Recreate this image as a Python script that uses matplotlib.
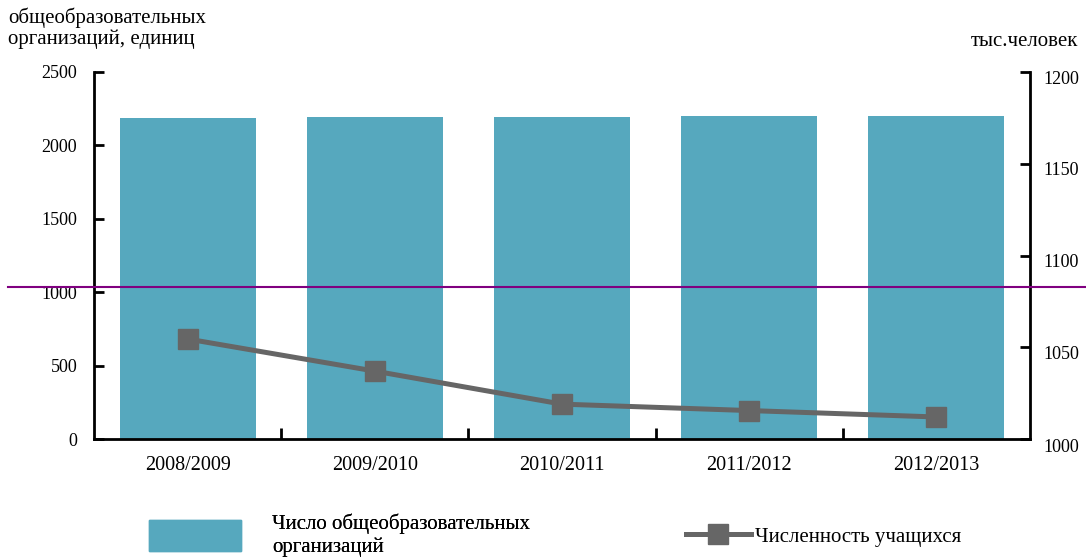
import matplotlib.pyplot as plt
from matplotlib.lines import Line2D
from matplotlib.patches import Patch
from matplotlib.transforms import ScaledTranslation

plt.rcParams['font.family'] = ['Liberation Serif', 'DejaVu Serif']

годы = ["2008/2009", "2009/2010", "2010/2011", "2011/2012", "2012/2013"]
организации = [2187, 2193, 2194, 2200, 2202]
учащиеся = [1054.5, 1037, 1019, 1015.5, 1012]

цвет_столбцов = "#56a8be"
цвет_линии = "#666666"

fig = plt.figure(figsize=(10.86, 5.58), dpi=100)
ax = fig.add_axes([94 / 1086, 1 - 439 / 558, (1030 - 94) / 1086, (439 - 72) / 558])
x = list(range(len(годы)))

ax.bar(x, организации, width=0.727, color=цвет_столбцов, zorder=1)
ax.set_xlim(-0.5, len(годы) - 0.5)
ax.set_ylim(0, 2500)
ax.set_yticks([0, 500, 1000, 1500, 2000, 2500])
ax.set_xticks([i + 0.5 for i in x[:-1]])
ax.set_xticklabels([])
ax.set_xticks(x, minor=True)
ax.set_xticklabels(годы, minor=True, fontsize=14.5)
ax.tick_params(axis='x', which='major', direction='in', length=8, width=2)
ax.tick_params(axis='x', which='minor', length=0, pad=12)
ax.tick_params(axis='y', direction='in', length=7, width=2, labelsize=13, pad=12)
ax.spines['top'].set_visible(False)
ax.spines['right'].set_visible(False)
for s in ['left', 'bottom']:
    ax.spines[s].set_linewidth(2)

ax2 = ax.twinx()
ax2.plot(x, учащиеся, color=цвет_линии, lw=3.6, marker='s', markersize=14,
         solid_joinstyle='round')
ax2.set_ylim(1000, 1200)
ax2.set_yticks([1000, 1050, 1100, 1150, 1200])
ax2.tick_params(axis='y', direction='in', length=7, width=2, labelsize=13, pad=10)
ax2.spines['top'].set_visible(False)
ax2.spines['left'].set_visible(False)
ax2.spines['bottom'].set_visible(False)
ax2.spines['right'].set_linewidth(2)
# подписи правой оси чуть ниже делений
for i, lbl in enumerate(ax2.get_yticklabels()):
    dy = 7 if i == 0 else 5
    lbl.set_transform(lbl.get_transform() + ScaledTranslation(0, -dy / 100, fig.dpi_scale_trans))

fig.text(8 / 1086, 1 - 8 / 558, "общеобразовательных\nорганизаций, единиц",
         fontsize=15, va='top', ha='left', linespacing=1.05)
fig.text(1078 / 1086, 1 - 32 / 558, "тыс.человек", fontsize=15, va='top', ha='right')

# легенды
leg1 = fig.legend(handles=[Patch(color=цвет_столбцов)],
                  labels=["Число общеобразовательных\nорганизаций"],
                  loc='upper left', bbox_to_anchor=(149 / 1086, 1 - 514 / 558),
                  frameon=False, fontsize=15, borderpad=0, borderaxespad=0,
                  handlelength=4.4, handleheight=1.9, handletextpad=1.5)
fig.add_artist(leg1)
fig.legend(handles=[Line2D([], [], color=цвет_линии, lw=3.6, marker='s', markersize=14)],
           labels=["Численность учащихся"],
           loc='upper left', bbox_to_anchor=(686 / 1086, 1 - 527 / 558),
           frameon=False, fontsize=15, borderpad=0, borderaxespad=0,
           handlelength=3.1, handletextpad=0.2)

fig.add_artist(Line2D([8 / 1086, 1], [1 - 286.7 / 558] * 2, transform=fig.transFigure,
                      color="#800080", lw=1.5))

fig.savefig("out.png", dpi=100)
